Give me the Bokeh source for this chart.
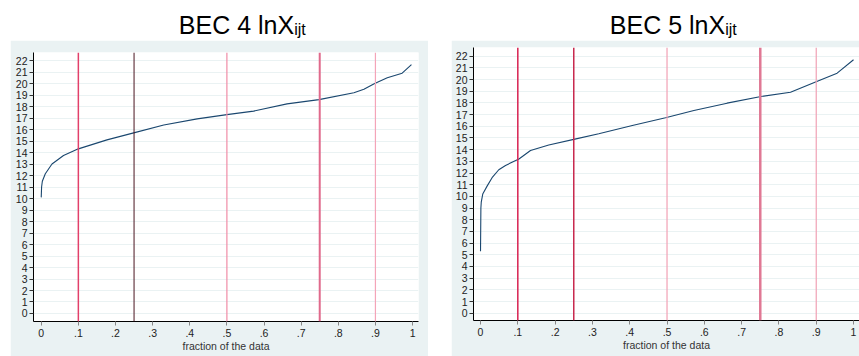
from bokeh.plotting import figure
from bokeh.models import Span, Label, FixedTicker, Range1d, Spacer
from bokeh.layouts import row, column
from bokeh.embed import file_html
from bokeh.resources import INLINE

# ---- data ----
frac4 = [0, 0.001, 0.003, 0.011, 0.029, 0.06, 0.1, 0.177, 0.249, 0.33, 0.42,
         0.5, 0.572, 0.662, 0.748, 0.842, 0.869, 0.898, 0.932, 0.972, 0.997]
val4 = [10.1, 11.0, 11.5, 12.15, 13.0, 13.74, 14.32, 15.1, 15.71, 16.4, 16.93,
        17.3, 17.6, 18.23, 18.6, 19.2, 19.5, 20.0, 20.5, 20.9, 21.65]

frac5 = [0, 0.001, 0.002, 0.006, 0.018, 0.031, 0.049, 0.067, 0.103, 0.134, 0.183,
         0.253, 0.317, 0.407, 0.496, 0.572, 0.661, 0.752, 0.831, 0.903, 0.956, 1.0]
val5 = [5.3, 9.0, 9.5, 10.2, 10.9, 11.6, 12.28, 12.65, 13.2, 13.93, 14.4,
        14.9, 15.36, 16.07, 16.73, 17.35, 17.98, 18.55, 18.92, 19.86, 20.55, 21.7]

x_ticks = [0, 0.1, 0.2, 0.3, 0.4, 0.5, 0.6, 0.7, 0.8, 0.9, 1.0]
x_tick_labels = ["0", ".1", ".2", ".3", ".4", ".5", ".6", ".7", ".8", ".9", "1"]
y_ticks = list(range(0, 23))
quantiles = [0.1, 0.25, 0.5, 0.75, 0.9]

titles = [("BEC 4 lnX", "ijt"), ("BEC 5 lnX", "ijt")]

GREY = "#EAF2F3"
NAVY = "#1A476F"
FONT = "Liberation Sans"

# quantile line styles: (color, width)
styles4 = [("#E2406A", 1.5), ("#4A1420", 1.0), ("#F08CA6", 1.2), ("#E06A8C", 2.0), ("#F4A4B8", 1.2)]
styles5 = [("#D82050", 1.5), ("#C8284E", 1.5), ("#F2A0B4", 1.2), ("#E07894", 2.5), ("#F0A0B4", 1.2)]


def title_fig(width, main, sub, main_right):
    t = figure(width=width, height=40, output_backend="svg", toolbar_location=None,
               x_range=Range1d(0, width), y_range=Range1d(0, 40),
               x_axis_location=None, y_axis_location=None, title_location=None,
               min_border=0, outline_line_color=None)
    t.grid.visible = False
    t.background_fill_color = "white"
    t.border_fill_color = "white"
    t.add_layout(Label(x=main_right, y=16, text=main, text_font=FONT, text_font_size="25px",
                       text_align="right", text_baseline="middle", text_color="black"))
    t.add_layout(Label(x=main_right, y=11, text=sub, text_font=FONT, text_font_size="16px",
                       text_align="left", text_baseline="middle", text_color="black"))
    return t


def chart(width, height, xr, yr, mins, frac, val, styles):
    p = figure(width=width, height=height, output_backend="svg", toolbar_location=None,
               x_range=Range1d(*xr), y_range=Range1d(*yr), title_location=None,
               min_border_left=mins[0], min_border_right=mins[1],
               min_border_top=mins[2], min_border_bottom=mins[3])
    p.border_fill_color = GREY
    p.background_fill_color = "white"
    p.outline_line_color = None
    p.xgrid.visible = False
    p.ygrid.ticker = FixedTicker(ticks=y_ticks)
    p.ygrid.grid_line_color = GREY
    p.ygrid.grid_line_width = 1

    for q, (c, w) in zip(quantiles, styles):
        p.add_layout(Span(location=q, dimension="height", line_color=c, line_width=w))

    p.line(frac, val, line_color=NAVY, line_width=1.1)

    p.xaxis.ticker = FixedTicker(ticks=x_ticks)
    p.xaxis.major_label_overrides = {t: l for t, l in zip(x_ticks, x_tick_labels)}
    p.yaxis.ticker = FixedTicker(ticks=y_ticks)
    p.xaxis.minor_tick_line_color = None
    p.yaxis.minor_tick_line_color = None
    for ax in (p.xaxis[0], p.yaxis[0]):
        ax.axis_line_color = "black"
        ax.axis_line_width = 1
        ax.major_tick_in = 0
        ax.major_tick_out = 4
        ax.major_label_text_font = FONT
        ax.major_label_text_font_size = "10.5px"
        ax.major_label_text_color = "#222222"
        ax.major_label_standoff = 2
    p.xaxis.major_label_standoff = 3
    p.xaxis.major_tick_line_color = "#888888"
    p.yaxis.major_tick_line_color = "#333333"
    p.xaxis.axis_label = "fraction of the data"
    p.xaxis.axis_label_text_font = FONT
    p.xaxis.axis_label_text_font_size = "10.5px"
    p.xaxis.axis_label_text_font_style = "normal"
    p.xaxis.axis_label_text_color = "#333333"
    p.xaxis.axis_label_standoff = 0
    return p


t1 = title_fig(418, titles[0][0], titles[0][1], 283)
p1 = chart(418, 316, (-0.0208, 1.016), (-0.696, 22.7), (23, 10, 12, 35), frac4, val4, styles4)

t2 = title_fig(408, titles[1][0], titles[1][1], 266)
p2 = chart(408, 316, (-0.0188, 1.016), (-0.625, 22.745), (22, 0, 7, 36), frac5, val5, styles5)

layout = row(Spacer(width=10), column(t1, p1), Spacer(width=23), column(t2, p2))

open("out.html", "w").write(file_html(layout, INLINE))
